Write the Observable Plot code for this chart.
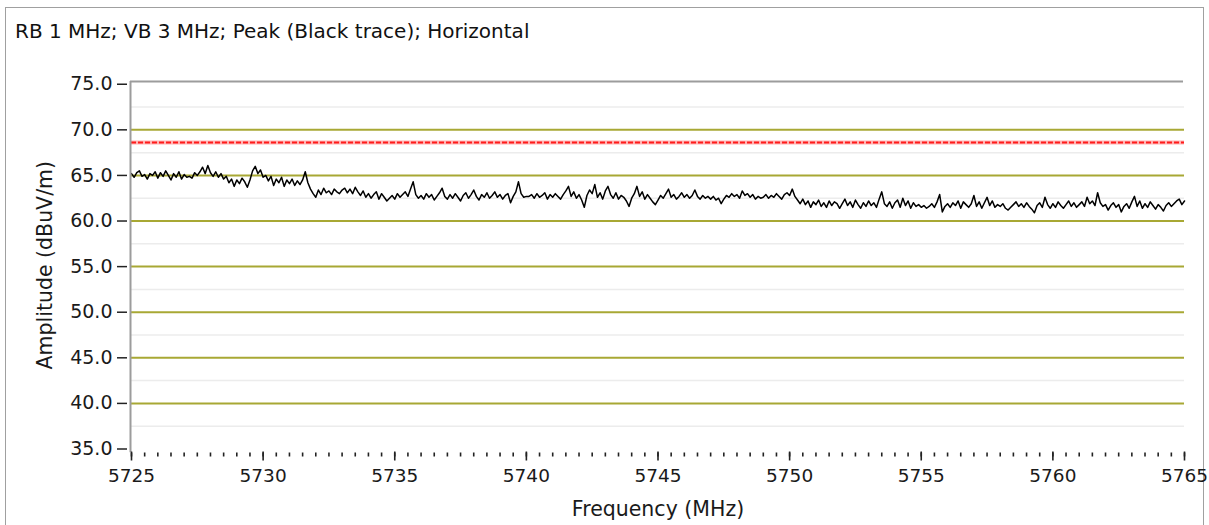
<!DOCTYPE html>
<html>
<head>
<meta charset="utf-8">
<script src="https://cdn.jsdelivr.net/npm/d3@7"></script>
<script src="https://cdn.jsdelivr.net/npm/@observablehq/plot@0.6"></script>
<style>
  html, body { margin: 0; padding: 0; background: #fff; width: 1209px; height: 525px; overflow: hidden; }
  #panel { position: absolute; left: 5px; top: 7px; width: 1199px; height: 540px; border: 1px solid #a0a0a0; box-sizing: border-box; }
  #title { position: absolute; left: 15px; top: 19px; font: 20px "DejaVu Sans", sans-serif; color: #111; white-space: nowrap; }
  #chart { position: absolute; left: 0; top: 60px; }
</style>
</head>
<body>
<div id="panel"></div>
<div id="title">RB 1 MHz; VB 3 MHz; Peak (Black trace); Horizontal</div>
<div id="chart"></div>
<script>
// Sweep: 5725–5765 MHz, one sample every 0.1 MHz (401 points)
const sweepStart = 5725;
const sweepStep = 0.1;

// Peak-hold amplitude, dBuV/m, one row per MHz
const amplitude = [
  65.2, 64.8, 65.3, 65.5, 64.9, 65.1, 64.6, 65.2, 65.0, 65.4,
  64.7, 65.3, 64.9, 65.5, 65.0, 64.5, 65.2, 64.8, 65.4, 64.6,
  65.1, 64.8, 64.9, 64.7, 65.3, 65.0, 65.4, 65.9, 65.2, 66.1,
  65.3, 64.9, 65.4, 64.8, 65.2, 64.6, 64.9, 64.2, 64.6, 63.8,
  64.5, 64.1, 64.7, 64.3, 63.7, 64.5, 65.5, 66.0, 65.2, 65.6,
  64.8, 65.0, 64.4, 64.9, 63.9, 64.6, 64.2, 64.8, 63.8, 64.5,
  64.1, 64.6, 63.9, 64.4, 64.0, 64.5, 65.4, 64.2, 63.5, 63.0,
  62.6, 63.4, 62.9, 63.6, 63.1, 63.3, 62.9, 63.5, 63.2, 63.0,
  63.4, 63.6, 63.1, 63.5, 63.0, 63.7, 63.2, 62.8, 63.3, 62.6,
  63.0, 62.5, 62.9, 63.2, 62.4, 63.0, 62.6, 62.2, 62.5, 62.8,
  62.4, 63.0, 62.6, 62.9, 63.2, 62.7, 63.5, 64.3, 62.9, 62.5,
  62.8, 62.4, 63.0, 62.6, 62.9, 62.3, 62.7, 63.1, 63.6, 62.7,
  62.4, 62.9, 62.5, 63.0, 62.6, 62.2, 62.8, 63.1, 62.5, 62.9,
  63.4, 62.7, 62.3, 62.9, 62.6, 63.1, 62.5, 62.8, 63.2, 62.6,
  62.9, 62.4, 62.8, 63.0, 62.0, 62.7, 63.2, 64.3, 63.0, 62.6,
  62.7, 62.7, 62.9, 62.5, 63.0, 62.6, 62.8, 63.1, 62.4, 62.9,
  62.6, 63.0, 62.7, 62.4, 62.9, 63.3, 63.8, 62.7, 63.2, 62.5,
  62.9, 62.3, 61.5, 62.8, 63.4, 63.0, 64.0, 62.6, 63.1, 62.4,
  63.3, 63.8, 62.9, 62.5, 63.1, 62.4, 62.8, 62.6, 62.2, 61.6,
  62.5, 63.0, 63.8, 62.7, 63.2, 62.4, 62.9, 62.5, 62.1, 61.8,
  62.3, 62.8, 62.5, 63.0, 63.5, 62.6, 62.9, 62.4, 62.7, 63.1,
  62.6, 62.9, 62.5, 62.8, 63.4, 62.7, 62.4, 62.8, 62.5, 62.7,
  62.4, 62.7, 62.3, 62.5, 61.9, 62.4, 62.8, 62.6, 63.0, 62.7,
  62.9, 62.5, 63.3, 62.8, 63.0, 62.6, 62.9, 62.4, 62.7, 62.5,
  62.6, 62.9, 62.5, 62.8, 62.6, 63.0, 62.7, 62.4, 62.9, 63.1,
  62.8, 63.5, 62.7, 62.3, 61.9, 62.4, 61.8, 62.2, 61.5, 62.1,
  61.8, 62.3, 61.6, 62.0, 61.5, 62.2, 61.7, 62.1, 61.9, 61.4,
  61.9, 62.4, 61.7, 62.1, 61.5, 62.3, 61.8, 61.4, 62.0, 61.6,
  62.2, 61.7, 62.0, 61.5, 62.4, 63.2, 61.9, 61.6, 62.1, 61.4,
  62.0, 62.3, 61.5, 62.5, 61.7, 62.2, 61.4, 62.0, 61.6, 61.8,
  61.5, 61.7, 61.4, 61.6, 61.9, 61.5, 62.1, 62.9, 61.0, 61.6,
  61.9, 61.5, 62.0, 61.7, 62.2, 61.4, 62.1, 61.8, 61.5, 61.9,
  62.8, 61.6, 62.1, 61.4, 62.0, 62.6, 61.7, 62.2, 61.5, 61.8,
  61.6, 61.9, 61.4, 61.2, 61.5, 61.8, 62.1, 61.6, 61.9, 61.5,
  62.0, 61.6, 61.3, 60.9, 61.7, 62.0, 61.5, 62.6, 61.8, 61.4,
  61.9, 61.5, 62.1, 61.7, 61.4, 61.8, 62.2, 61.6, 62.0, 61.5,
  61.8, 62.1, 61.6, 62.6, 61.9, 62.2, 61.7, 63.1, 62.0, 61.6,
  61.8, 61.2, 61.7, 62.0, 61.5, 61.8, 61.0, 61.6, 61.9, 61.4,
  62.1, 62.7, 61.6, 62.2, 61.4, 61.9, 61.5, 62.1, 61.7, 61.3,
  61.8, 61.5, 61.1, 61.7, 62.0, 61.6, 61.9, 62.2, 62.4, 61.8,
  62.2
];

// Limit line, dBuV/m
const limitLevel = [68.6];

// Axis ticks and grid levels
const xTickLabels = [5725, 5730, 5735, 5740, 5745, 5750, 5755, 5760, 5765];
const xMinorTicks = d3.range(5725, 5765.001, 0.5);
const yTickLabels = [35, 40, 45, 50, 55, 60, 65, 70, 75];
const majorGrid = [40, 45, 50, 55, 60, 65, 70];
const minorGrid = [37.5, 42.5, 47.5, 52.5, 57.5, 62.5, 67.5, 72.5];

const xTitle = "Frequency (MHz)";
const yTitle = "Amplitude (dBuV/m)";

const trace = amplitude.map((a, i) => ({f: sweepStart + i * sweepStep, a}));

const yTop = 75.3;
const frameColor = "#9c9c9c";

const chart = Plot.plot({
  width: 1209,
  height: 465,
  marginLeft: 131,
  marginRight: 25,
  marginTop: 21,
  marginBottom: 76.5,
  style: {fontFamily: "DejaVu Sans, sans-serif", fontSize: "18.5px", color: "#1a1a1a", background: "transparent"},
  x: {domain: [5725, 5765]},
  y: {domain: [35, yTop]},
  marks: [
    Plot.ruleY(minorGrid, {stroke: "#ececec", strokeWidth: 1.5}),
    Plot.ruleY(majorGrid, {stroke: "#a8a834", strokeWidth: 2}),
    Plot.ruleY(limitLevel, {stroke: "#ffb4b4", strokeWidth: 4}),
    Plot.ruleY(limitLevel, {stroke: "#ff1c1c", strokeWidth: 2, strokeDasharray: "5,2"}),
    Plot.lineY(trace, {x: "f", y: "a", stroke: "#000", strokeWidth: 1.5}),
    // plot frame: left and top edges only
    Plot.ruleX([5725], {y1: 34.6, y2: yTop, stroke: frameColor, strokeWidth: 2, dx: -1}),
    Plot.ruleY([yTop], {stroke: frameColor, strokeWidth: 2, dx: -1}),
    Plot.axisY({ticks: yTickLabels, tickSize: 10, tickPadding: 5, dx: -4, fontSize: 19, tickFormat: d => d.toFixed(1), stroke: "#222", strokeWidth: 1.5, label: null}),
    Plot.axisX({ticks: xMinorTicks, tickSize: 4, dy: 4, tickFormat: () => "", stroke: "#222", strokeWidth: 1.6, label: null}),
    Plot.axisX({ticks: xTickLabels, tickSize: 9, tickPadding: 8, dy: 3, fontSize: 18.5, tickFormat: d => String(d), stroke: "#222", strokeWidth: 1.6, label: null}),
    Plot.text([yTitle], {frameAnchor: "left", textAnchor: "middle", lineAnchor: "middle", rotate: -90, dx: -86, fontSize: 20.5, fill: "#1a1a1a"}),
    Plot.text([xTitle], {frameAnchor: "bottom", textAnchor: "middle", lineAnchor: "middle", dy: 60, fontSize: 20.5, fill: "#1a1a1a"})
  ]
});

document.getElementById("chart").appendChild(chart);
</script>
</body>
</html>
